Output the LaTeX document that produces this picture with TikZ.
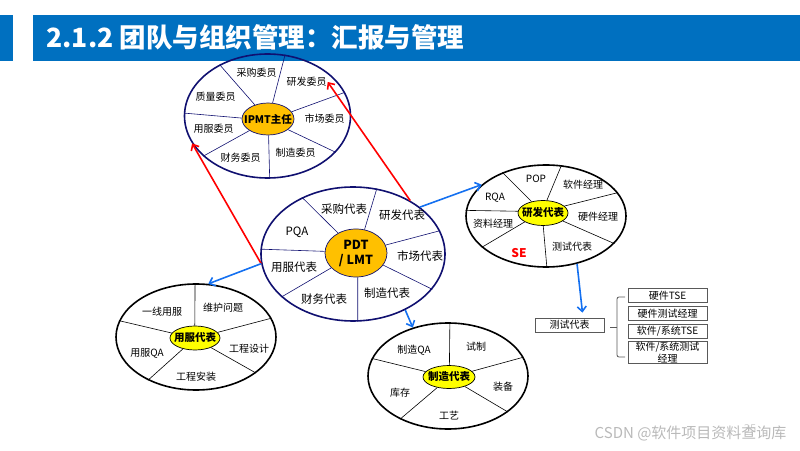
\documentclass[tikz,border=0pt]{standalone}
\usepackage{fontspec}
\setmainfont{Noto Sans CJK SC}
\usepackage{tikz}
\usetikzlibrary{positioning}
\usetikzlibrary{calc}
\usetikzlibrary{arrows.meta}
\usetikzlibrary{shapes.geometric}

\definecolor{TitleBlue}{RGB}{0,112,192}
\definecolor{Navy}{RGB}{16,16,112}
\definecolor{Gold}{RGB}{255,192,0}
\definecolor{Lemon}{RGB}{255,255,0}
\definecolor{LinkBlue}{RGB}{20,112,240}
\definecolor{BoxGray}{RGB}{89,89,89}
\definecolor{MarkGray}{RGB}{185,185,185}

\tikzset{
	ring/.style={ellipse, draw, line width=1.6pt, inner sep=0pt},
	hub/.style={ellipse, draw, line width=0.7pt, inner sep=-20pt, font=\bfseries\fontsize{10.5}{12}\selectfont},
	spoke/.style={line width=0.6pt},
	lbl/.style={inner sep=1pt, font=\fontsize{10}{12}\selectfont},
	biglbl/.style={inner sep=1pt, font=\fontsize{11.5}{13}\selectfont},
	relay/.style={line width=1.6pt, -{Straight Barb[length=5pt,width=9pt]}},
	boxed/.style={draw=BoxGray, line width=0.8pt, inner sep=0pt, align=center, font=\fontsize{10}{10.5}\selectfont}
}

\begin{document}
\begin{tikzpicture}[x=1pt, y=1pt]
	\useasboundingbox (0,0) rectangle (800,450);
	
	% title bar
	\fill[TitleBlue] (0,389) rectangle (12.7,435);
	\fill[TitleBlue] (33,389) rectangle (800,435);
	\node[
	anchor=base west,
	text=white,
	font=\bfseries\fontsize{26.5}{30}\selectfont
	] (Title) at (43,402) {2.1.2 团队与组织管理：汇报与管理};
	
	% --- IPMT
	
	\node[
	ring,
	draw=Navy,
	minimum width=166pt,
	minimum height=124pt
	] (IPMT) at (267.5,334) {};
	
	\node[
	hub,
	draw=Navy,
	fill=Gold,
	minimum width=52pt,
	minimum height=32pt
	] (IPMT-c) at (268,331) {IPMT主任};
	
	\foreach \a in {74,133,178,212,272,332,17}
	\draw[spoke, Navy] (IPMT-c.\a) -- (IPMT.\a);
	
	\node[lbl] (IPMT-cg) at ($(IPMT)+(-11,43)$) {采购委员};
	\node[lbl] (IPMT-yf) at ($(IPMT)+(39,34)$) {研发委员};
	\node[lbl] (IPMT-zl) at ($(IPMT)+(-52,19)$) {质量委员};
	\node[lbl] (IPMT-sc) at ($(IPMT)+(57,-3)$) {市场委员};
	\node[lbl] (IPMT-yfw) at ($(IPMT)+(-54,-13)$) {用服委员};
	\node[lbl] (IPMT-zz) at ($(IPMT)+(28,-37)$) {制造委员};
	\node[lbl] (IPMT-cw) at ($(IPMT)+(-27,-42)$) {财务委员};
	
	% --- PDT
	
	\node[
	ring,
	draw=Navy,
	minimum width=184pt,
	minimum height=134pt
	] (PDT) at (353,196) {};
	
	\node[
	hub,
	draw=Navy,
	fill=Gold,
	align=center,
	font=\bfseries\fontsize{12.5}{15}\selectfont,
	minimum width=62pt,
	minimum height=48pt
	] (PDT-c) at (356,197) {PDT\\/ LMT};
	
	\foreach \a in {70,132,177,211,274,336,15.5}
	\draw[spoke, Navy] (PDT-c.\a) -- (PDT.\a);
	
	\node[biglbl] (PDT-cg) at ($(PDT)+(-9,45)$) {采购代表};
	\node[biglbl] (PDT-yf) at ($(PDT)+(49,39)$) {研发代表};
	\node[biglbl] (PDT-pqa) at ($(PDT)+(-56,22)$) {PQA};
	\node[biglbl] (PDT-sc) at ($(PDT)+(67,-2)$) {市场代表};
	\node[biglbl] (PDT-yfw) at ($(PDT)+(-59,-13)$) {用服代表};
	\node[biglbl] (PDT-zz) at ($(PDT)+(34,-39)$) {制造代表};
	\node[biglbl] (PDT-cw) at ($(PDT)+(-29,-45)$) {财务代表};
	
	% --- R&D rep
	
	\node[
	ring,
	minimum width=160pt,
	minimum height=102pt
	] (RD) at (546,234) {};
	
	\node[
	hub,
	fill=Lemon,
	minimum width=50pt,
	minimum height=25pt
	] (RD-c) at (543,237) {研发代表};
	
	\foreach \a in {73,135,176,206,271,338,18}
	\draw[spoke] (RD-c.\a) -- (RD.\a);
	
	\node[lbl] (RD-pop) at ($(RD)+(-10,37)$) {POP};
	\node[lbl] (RD-rj) at ($(RD)+(37,31)$) {软件经理};
	\node[lbl] (RD-rqa) at ($(RD)+(-51,18)$) {RQA};
	\node[lbl] (RD-yj) at ($(RD)+(52,-1)$) {硬件经理};
	\node[lbl] (RD-zl) at ($(RD)+(-53,-8)$) {资料经理};
	\node[lbl] (RD-cs) at ($(RD)+(26,-31)$) {测试代表};
	\node[lbl, text=red, font=\bfseries\fontsize{12}{14}\selectfont] (RD-se) at ($(RD)+(-27,-37)$) {SE};
	
	% --- service rep
	
	\node[
	ring,
	minimum width=160pt,
	minimum height=106pt
	] (YF) at (196,113) {};
	
	\node[
	hub,
	fill=Lemon,
	minimum width=50pt,
	minimum height=24pt
	] (YF-c) at (195,112) {用服代表};
	
	\foreach \a in {91,168,222,329,14}
	\draw[spoke] (YF-c.\a) -- (YF.\a);
	
	\node[lbl] (YF-yx) at ($(YF)+(-34,25)$) {一线用服};
	\node[lbl] (YF-wh) at ($(YF)+(27,29)$) {维护问题};
	\node[lbl] (YF-qa) at ($(YF)+(-49,-16)$) {用服QA};
	\node[lbl] (YF-sj) at ($(YF)+(53,-12)$) {工程设计};
	\node[lbl] (YF-az) at ($(YF)+(0,-40)$) {工程安装};
	
	% --- manufacturing rep
	
	\node[
	ring,
	minimum width=160pt,
	minimum height=106pt
	] (ZZ) at (448,74) {};
	
	\node[
	hub,
	fill=Lemon,
	minimum width=52pt,
	minimum height=23pt
	] (ZZ-c) at (449,73) {制造代表};
	
	\foreach \a in {88,167,222,329,14}
	\draw[spoke] (ZZ-c.\a) -- (ZZ.\a);
	
	\node[lbl] (ZZ-qa) at ($(ZZ)+(-34,26)$) {制造QA};
	\node[lbl] (ZZ-sz) at ($(ZZ)+(28,29)$) {试制};
	\node[lbl] (ZZ-kc) at ($(ZZ)+(-48,-17)$) {库存};
	\node[lbl] (ZZ-zb) at ($(ZZ)+(55,-11)$) {装备};
	\node[lbl] (ZZ-gy) at ($(ZZ)+(1,-40)$) {工艺};
	
	% --- test roles
	
	\node[boxed, minimum width=69pt, minimum height=14pt] (TestRep) at (569.5,125) {测试代表};
	
	\node[boxed, minimum width=79pt, minimum height=14.5pt] (HwTSE) at (667.5,154.5) {硬件TSE};
	\node[boxed, minimum width=79pt, minimum height=13.5pt] (HwMgr) at (667.5,136.7) {硬件测试经理};
	\node[boxed, minimum width=79pt, minimum height=14pt] (SwTSE) at (667.5,118.7) {软件/系统TSE};
	\node[boxed, minimum width=79pt, minimum height=21.6pt, font=\fontsize{10}{10}\selectfont] (SwMgr) at (667.5,97.5) {软件/系统测试\\经理};
	
	\draw[BoxGray, line width=0.8pt, rounded corners=2pt] (625,153) -- (617,153) -- (617,93) -- (625,93);
	\draw[BoxGray, line width=0.8pt] (617,123) -- (610,123);
	
	% --- reporting lines
	
	\draw[relay, red] (PDT.43) -- (IPMT-yf.east);
	\draw[relay, red] (PDT.186) -- (IPMT.200);
	
	\draw[relay, LinkBlue] (PDT.35) -- (RD.154);
	\draw[relay, LinkBlue] (PDT.186) -- (YF.77);
	\draw[relay, LinkBlue] (PDT.313) -- (ZZ.126);
	\draw[relay, LinkBlue, shorten >=5pt] (RD.303) -- ([xshift=13.5pt]TestRep.north);
	
	% --- watermark
	
	\node[anchor=base, text=MarkGray!70, font=\fontsize{11}{12}\selectfont] (PageNo) at (750,18) {35};
	\node[anchor=east, text=MarkGray, font=\fontsize{15}{16}\selectfont] (Mark) at (790,17) {CSDN @软件项目资料查询库};
\end{tikzpicture}
\end{document}
